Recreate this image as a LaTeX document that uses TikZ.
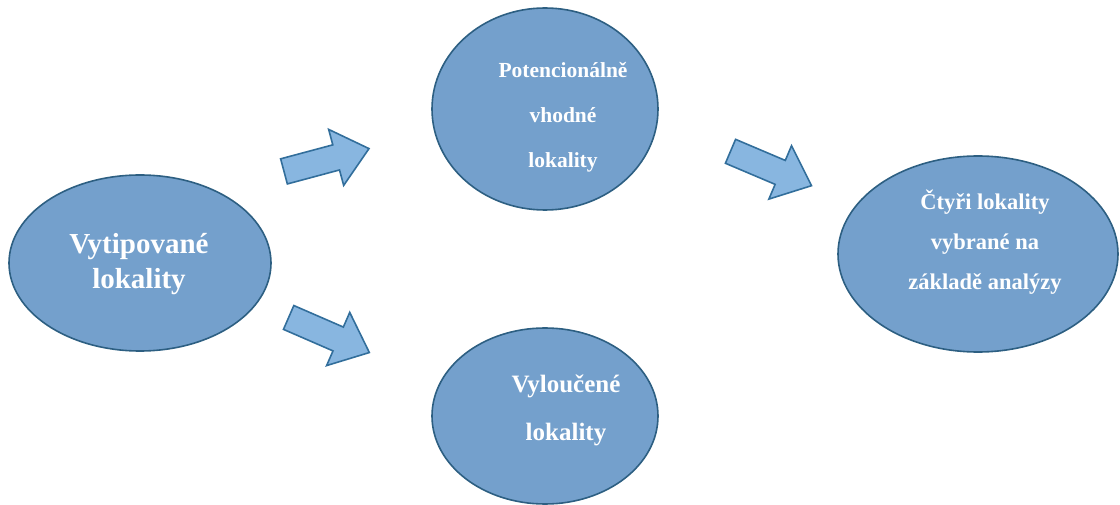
\documentclass[tikz,border=0pt]{standalone}
\usepackage{fontspec}
\setmainfont{Liberation Serif}
\usetikzlibrary{shapes.geometric}
\definecolor{ellfill}{RGB}{116,160,204}
\definecolor{elldraw}{RGB}{45,95,130}
\definecolor{arrfill}{RGB}{136,182,224}
\definecolor{arrdraw}{RGB}{50,110,155}
\tikzset{
  blob/.style={ellipse, fill=ellfill, draw=elldraw, line width=1.6pt, inner sep=0pt},
  lbl/.style={text=white, align=center, font=\bfseries},
  blockarrow/.style={fill=arrfill, draw=arrdraw, line width=1.6pt, line join=miter}
}
\newcommand{\blockarrowpath}{(-44,-13) -- (10,-13) -- (10,-29) -- (44,0) -- (10,29) -- (10,13) -- (-44,13) -- cycle}
\begin{document}
\begin{tikzpicture}[x=1pt,y=1pt]
\useasboundingbox (0,0) rectangle (1120,504);
% ellipses
\node[blob, minimum width=262pt, minimum height=176pt] (L) at (140,241) {};
\node[blob, minimum width=226pt, minimum height=202pt] (T) at (545,395) {};
\node[blob, minimum width=226pt, minimum height=176pt] (B) at (545,88) {};
\node[blob, minimum width=280pt, minimum height=196pt] (R) at (978,250) {};
% labels
\node[lbl, font=\bfseries\fontsize{29}{35}\selectfont] (Lt) at (139,240) {Vytipované\\lokality};
\node[lbl, font=\bfseries\fontsize{21.5}{45}\selectfont] (Tt) at (563,387) {Potencionálně\\vhodné\\lokality};
\node[lbl, font=\bfseries\fontsize{25}{48}\selectfont] (Bt) at (566,94) {Vyloučené\\lokality};
\node[lbl, font=\bfseries\fontsize{22.5}{40}\selectfont] (Rt) at (985,262) {Čtyři lokality\\vybrané na\\základě analýzy};
% block arrows
\coordinate (a1) at (326.5,344);
\coordinate (a2) at (329,169);
\coordinate (a3) at (771,335.5);
\draw[blockarrow, shift={(a1)}, rotate=15] \blockarrowpath;
\draw[blockarrow, shift={(a2)}, rotate=-23.5] \blockarrowpath;
\draw[blockarrow, shift={(a3)}, rotate=-23] \blockarrowpath;
\end{tikzpicture}
\end{document}
